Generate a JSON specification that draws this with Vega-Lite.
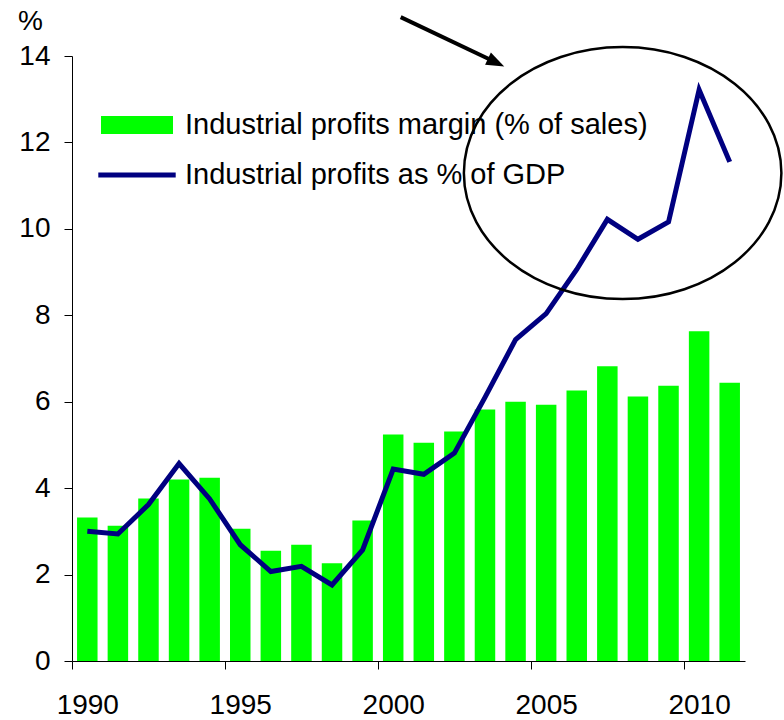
{
  "$schema": "https://vega.github.io/schema/vega-lite/v6.json",
  "width": 673,
  "height": 605,
  "autosize": "none",
  "padding": {"left": 72, "top": 56, "right": 39, "bottom": 59},
  "background": "white",
  "config": {
    "view": {"stroke": null},
    "font": "Liberation Sans",
    "axis": {"labelFont": "Liberation Sans", "titleFont": "Liberation Sans"},
    "legend": {"labelFont": "Liberation Sans"}
  },
  "layer": [
    {
      "data": {
        "values": [
          {"year": 1990, "margin": 3.32, "gdp": 3.00},
          {"year": 1991, "margin": 3.13, "gdp": 2.94},
          {"year": 1992, "margin": 3.76, "gdp": 3.62},
          {"year": 1993, "margin": 4.20, "gdp": 4.57},
          {"year": 1994, "margin": 4.24, "gdp": 3.75},
          {"year": 1995, "margin": 3.06, "gdp": 2.69},
          {"year": 1996, "margin": 2.55, "gdp": 2.07},
          {"year": 1997, "margin": 2.69, "gdp": 2.19},
          {"year": 1998, "margin": 2.26, "gdp": 1.76},
          {"year": 1999, "margin": 3.25, "gdp": 2.57},
          {"year": 2000, "margin": 5.24, "gdp": 4.44},
          {"year": 2001, "margin": 5.05, "gdp": 4.32},
          {"year": 2002, "margin": 5.31, "gdp": 4.81},
          {"year": 2003, "margin": 5.82, "gdp": 6.10},
          {"year": 2004, "margin": 6.00, "gdp": 7.44},
          {"year": 2005, "margin": 5.93, "gdp": 8.04},
          {"year": 2006, "margin": 6.26, "gdp": 9.06},
          {"year": 2007, "margin": 6.82, "gdp": 10.22},
          {"year": 2008, "margin": 6.12, "gdp": 9.76},
          {"year": 2009, "margin": 6.37, "gdp": 10.16},
          {"year": 2010, "margin": 7.63, "gdp": 13.22},
          {"year": 2011, "margin": 6.44, "gdp": 11.55}
        ]
      },
      "encoding": {
        "x": {
          "field": "year",
          "type": "ordinal",
          "scale": {"paddingInner": 0.33, "paddingOuter": 0.165},
          "axis": {
            "title": null,
            "values": [1990, 1995, 2000, 2005, 2010],
            "labelAngle": 0,
            "labelFontSize": 28,
            "labelColor": "black",
            "labelPadding": 22,
            "tickSize": 8,
            "tickColor": "black",
            "domainColor": "black",
            "tickOffset": -15.3,
            "labelOffset": 15.3,
            "grid": false
          }
        }
      },
      "layer": [
        {
          "mark": {"type": "bar", "color": "#00FF00"},
          "encoding": {
            "y": {
              "field": "margin",
              "type": "quantitative",
              "scale": {"domain": [0, 14], "nice": false},
              "axis": {
                "values": [0, 2, 4, 6, 8, 10, 12, 14],
                "title": "%",
                "titleAngle": 0,
                "titleX": -42,
                "titleY": -35,
                "titleAlign": "center",
                "titleBaseline": "middle",
                "titleFontSize": 28,
                "titleFontWeight": "normal",
                "titleColor": "black",
                "labelFontSize": 28,
                "labelColor": "black",
                "labelPadding": 14,
                "tickSize": 8,
                "tickColor": "black",
                "domainColor": "black",
                "grid": false
              }
            },
            "color": {
              "datum": "Industrial profits margin (% of sales)",
              "scale": {
                "domain": ["Industrial profits margin (% of sales)", "Industrial profits as % of GDP"],
                "range": ["#00FF00", "#000080"]
              },
              "legend": {
                "title": null,
                "orient": "none",
                "legendX": 47,
                "legendY": 51,
                "padding": 0,
                "labelFontSize": 29,
                "labelColor": "black",
                "labelLimit": 1000,
                "labelOffset": 30,
                "rowPadding": 17,
                "symbolSize": 1296,
                "encode": {
                  "symbols": {
                    "update": {
                      "shape": {"signal": "datum.value === 'Industrial profits margin (% of sales)' ? 'M-2,-0.5H2V0.5H-2Z' : 'M-2.15,-0.14H2.15V0.14H-2.15Z'"},
                      "fill": {"scale": "color", "field": "value"},
                      "stroke": {"value": "transparent"},
                      "strokeWidth": {"value": 0},
                      "size": {"value": 1296},
                      "opacity": {"value": 1},
                      "fillOpacity": {"value": 1}
                    }
                  }
                }
              }
            }
          }
        },
        {
          "mark": {"type": "line", "strokeWidth": 5},
          "encoding": {
            "y": {"field": "gdp", "type": "quantitative"},
            "color": {"datum": "Industrial profits as % of GDP"}
          }
        }
      ]
    },
    {
      "layer": [
        {
          "data": {"values": [{"x": 2008, "y": 11.29}]},
          "mark": {
            "type": "point",
            "filled": false,
            "stroke": "black",
            "strokeWidth": 2.5,
            "opacity": 1,
            "size": 63504,
            "shape": "M-1.26,0C-1.26,-0.5523,-0.696,-1,0,-1C0.696,-1,1.26,-0.5523,1.26,0C1.26,0.5523,0.696,1,0,1C-0.696,1,-1.26,0.5523,-1.26,0Z"
          },
          "encoding": {
            "x": {"field": "x", "type": "quantitative", "scale": {"domain": [1990, 2012], "nice": false, "zero": false}, "axis": null},
            "y": {"field": "y", "type": "quantitative", "scale": {"domain": [0, 14], "nice": false}, "axis": null}
          }
        },
        {
          "data": {"values": [{"x": 2000.745, "y": 14.9, "x2": 2003.73, "y2": 13.895}]},
          "mark": {"type": "rule", "stroke": "black", "strokeWidth": 4, "strokeCap": "butt"},
          "encoding": {
            "x": {"field": "x", "type": "quantitative", "scale": {"domain": [1990, 2012], "nice": false, "zero": false}, "axis": null},
            "y": {"field": "y", "type": "quantitative", "scale": {"domain": [0, 14], "nice": false}, "axis": null},
            "x2": {"field": "x2"},
            "y2": {"field": "y2"}
          }
        },
        {
          "data": {"values": [{"x": 2003.864, "y": 13.849}]},
          "mark": {
            "type": "point",
            "filled": true,
            "fill": "black",
            "stroke": null,
            "opacity": 1,
            "size": 324,
            "angle": 25.4,
            "shape": "M-1,-0.75L1,0L-1,0.75Z"
          },
          "encoding": {
            "x": {"field": "x", "type": "quantitative", "scale": {"domain": [1990, 2012], "nice": false, "zero": false}, "axis": null},
            "y": {"field": "y", "type": "quantitative", "scale": {"domain": [0, 14], "nice": false}, "axis": null}
          }
        }
      ]
    }
  ],
  "resolve": {"scale": {"x": "independent", "y": "independent"}}
}
